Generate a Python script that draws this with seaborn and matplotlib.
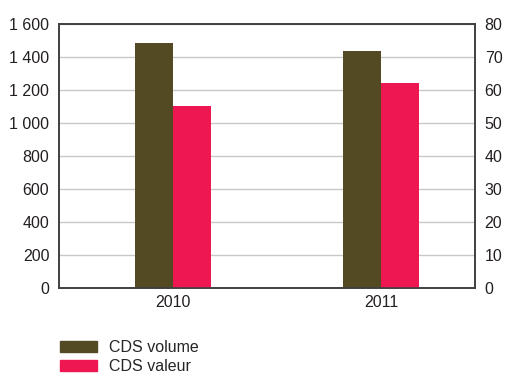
import matplotlib
matplotlib.use("Agg")
import matplotlib.pyplot as plt
import matplotlib.patches as mpatches
import matplotlib.ticker as mticker
import numpy as np
import pandas as pd
import seaborn as sns

years = ["2010", "2011"]
cds_volume = [1485, 1436]       # left axis
cds_valeur = [55, 62]           # right axis
series_names = ["CDS volume", "CDS valeur"]
colors = ["#534A24", "#EE1751"]

sns.set_style("white")
plt.rcParams["font.family"] = ["Liberation Sans", "DejaVu Sans"]

fs = 11.5
fig = plt.figure(figsize=(5.12, 3.76), dpi=100)
ax1 = fig.add_axes([59/512, 1-288/376, (475-59)/512, (288-24)/376])
ax2 = ax1.twinx()

df1 = pd.DataFrame({"year": years * 2,
                    "serie": [series_names[0]] * 2 + [series_names[1]] * 2,
                    "val": cds_volume + [np.nan, np.nan]})
df2 = pd.DataFrame({"year": years * 2,
                    "serie": [series_names[0]] * 2 + [series_names[1]] * 2,
                    "val": [np.nan, np.nan] + cds_valeur})

sns.barplot(data=df1, x="year", y="val", hue="serie", hue_order=series_names,
            palette=colors, width=0.365, ax=ax1, saturation=1, legend=False,
            errorbar=None, linewidth=0)
sns.barplot(data=df2, x="year", y="val", hue="serie", hue_order=series_names,
            palette=colors, width=0.365, ax=ax2, saturation=1, legend=False,
            errorbar=None, linewidth=0)

ax1.set_ylim(0, 1600)
ax2.set_ylim(0, 80)
ax1.set_xlim(-0.55, 1.45)
ax1.set_yticks(np.arange(0, 1601, 200))
ax2.set_yticks(np.arange(0, 81, 10))
ax1.yaxis.set_major_formatter(mticker.FuncFormatter(lambda v, p: f"{int(v):,}".replace(",", " ")))
ax1.grid(axis="y", color="#C8C8C8", linewidth=1)
ax1.set_axisbelow(True)
ax2.grid(False)
for a in (ax1, ax2):
    a.set_xlabel("")
    a.set_ylabel("")
    a.tick_params(axis="both", length=0, labelsize=fs, colors="#231F20", pad=5)
    for s in a.spines.values():
        s.set_color("#404040")
        s.set_linewidth(1.2)
ax1.tick_params(axis="y", pad=7)
ax2.tick_params(axis="y", pad=7)

handles = [mpatches.Patch(color=c, label=n) for c, n in zip(colors, series_names)]
fig.legend(handles=handles, loc="upper left", bbox_to_anchor=(57/512, 1-337/376),
           frameon=False, fontsize=fs, handlelength=2.3, handleheight=0.75,
           handletextpad=0.75, labelspacing=0.25, borderaxespad=0, borderpad=0.2)

fig.savefig("out.png", dpi=100)
